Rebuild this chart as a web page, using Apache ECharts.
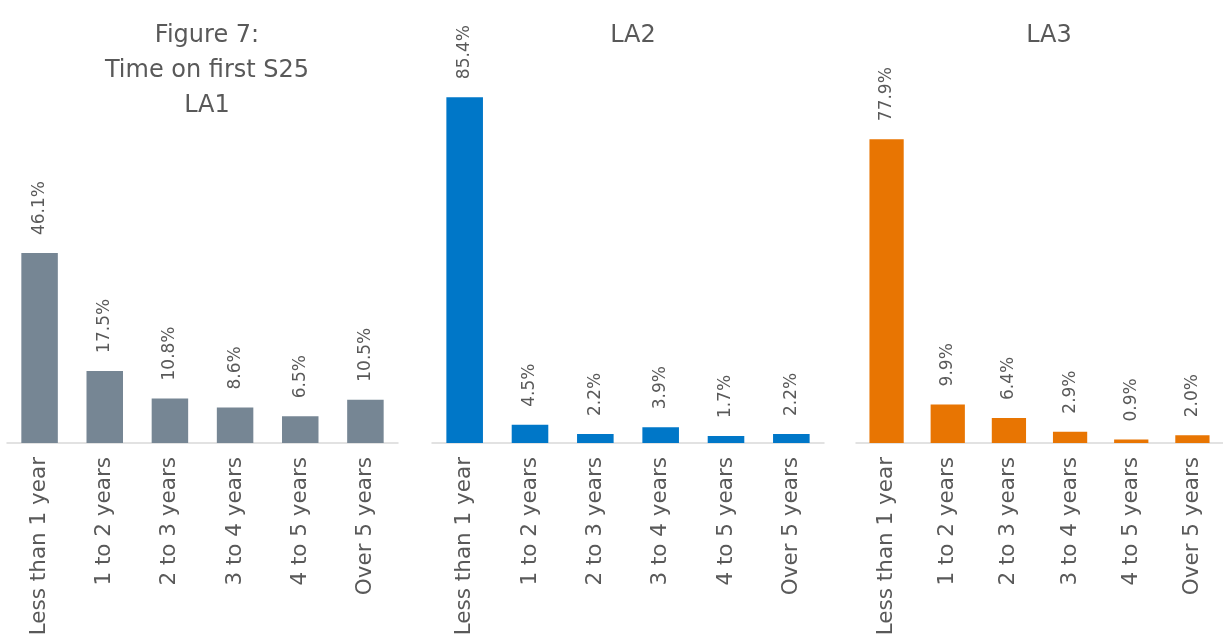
<!DOCTYPE html>
<html>
<head>
<meta charset="utf-8">
<script src="https://cdn.jsdelivr.net/npm/echarts@6/dist/echarts.min.js"></script>
<style>
  html, body { margin: 0; padding: 0; background: #fff; }
  #chart { width: 1223px; height: 642px; }
</style>
</head>
<body>
<div id="chart"></div>
<script>
var categories = ['Less than 1 year', '1 to 2 years', '2 to 3 years', '3 to 4 years', '4 to 5 years', 'Over 5 years'];
var la1 = [46.1, 17.5, 10.8, 8.6, 6.5, 10.5];
var la2 = [85.4, 4.5, 2.2, 3.9, 1.7, 2.2];
var la3 = [77.9, 9.9, 6.4, 2.9, 0.9, 2.0];
var panelTitles = ['Figure 7:\nTime on first S25\nLA1', 'LA2', 'LA3'];
var panelColors = ['#768694', '#0077c8', '#e87502'];

var font = '"DejaVu Sans", sans-serif';
var textColor = '#595959';

var chart = echarts.init(document.getElementById('chart'));

// one grid per panel, baseline shared at y=443
var grids = [
  { left: 7, width: 391, top: 31, height: 412 },
  { left: 432, width: 392, top: 38, height: 405 },
  { left: 856, width: 377, top: 53, height: 390 }
];
var centers = [202, 628, 1044];
var allData = [la1, la2, la3];

var xAxes = [], yAxes = [], series = [], titles = [];
for (var i = 0; i < 3; i++) {
  titles.push({
    text: panelTitles[i],
    left: centers[i],
    top: 13,
    textAlign: 'center',
    textStyle: { fontFamily: font, fontSize: 24, fontWeight: 'normal', color: textColor, lineHeight: 35 }
  });
  xAxes.push({
    type: 'category',
    gridIndex: i,
    data: categories,
    axisLine: { lineStyle: { color: '#d9d9d9', width: 1.5 } },
    axisTick: { show: false },
    axisLabel: { rotate: 90, margin: 14, interval: 0, fontFamily: font, fontSize: 21.5, color: textColor }
  });
  yAxes.push({
    type: 'value',
    gridIndex: i,
    min: 0,
    max: 100,
    show: false,
    splitLine: { show: false }
  });
  series.push({
    type: 'bar',
    xAxisIndex: i,
    yAxisIndex: i,
    data: allData[i],
    barWidth: '56%',
    itemStyle: { color: panelColors[i] },
    label: {
      show: true,
      position: 'top',
      rotate: 90,
      align: 'left',
      verticalAlign: 'middle',
      distance: 18,
      fontFamily: font,
      fontSize: 17,
      color: textColor,
      formatter: function (p) { return p.value.toFixed(1) + '%'; }
    }
  });
}

chart.setOption({
  animation: false,
  title: titles,
  grid: grids,
  xAxis: xAxes,
  yAxis: yAxes,
  series: series
});
</script>
</body>
</html>
